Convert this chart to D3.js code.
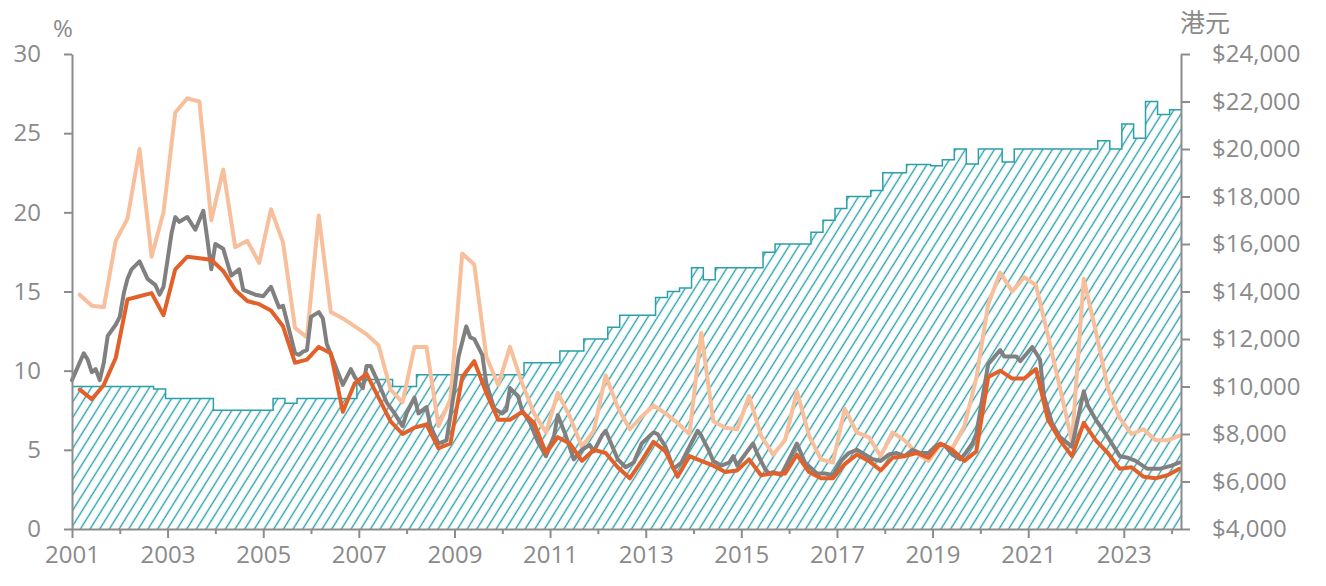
<!DOCTYPE html>
<html>
<head>
<meta charset="utf-8">
<script src="https://cdn.jsdelivr.net/npm/d3@7"></script>
<style>
  body { margin: 0; background: #fff; }
  svg text { font-family: "Open Sans", "Noto Sans", sans-serif; fill: #8a8a8a; }
</style>
</head>
<body>
<script>
// Chart size
const width = 1326;
const height = 586;

// Quarterly wage (right axis, HK$), one value per quarter from 2001Q1
const wageFirstQuarter = "2001-01";
const wage = [
  10000, 10000, 10000, 10000,  10000, 10000, 10000, 9900,
  9500, 9500, 9500, 9500,      9000, 9000, 9000, 9000,
  9000, 9500, 9300, 9500,      9500, 9500, 9500, 9500,
  10300, 10300, 10300, 10000,  10000, 10500, 10500, 10500,
  10500, 10500, 10500, 10500,  10500, 10500, 11000, 11000,
  11000, 11500, 11500, 12000,  12000, 12500, 13000, 13000,
  13000, 13750, 14000, 14150,  15000, 14500, 15000, 15000,
  15000, 15000, 15650, 16000,  16000, 16000, 16500, 17000,
  17500, 18000, 18000, 18250,  19000, 19000, 19350, 19350,
  19300, 19550, 20000, 19370,  20000, 20000, 19450, 20000,
  20000, 20000, 20000, 20000,  20000, 20000, 20350, 20000,
  21050, 20450, 22000, 21450,  21650
];

// Quarterly series (left axis, %), plotted at quarter-end months from 2001-03
const firstQuarterEnd = "2001-03";
const peach = [
  14.8, 14.1, 14.0, 18.2, 19.6, 24.0, 17.2, 20.0, 26.3, 27.2, 27.0, 19.5,
  22.7, 17.8, 18.2, 16.8, 20.2, 18.1, 12.7, 12.1, 19.8, 13.7, 13.3, 12.8,
  12.3, 11.6, 8.8, 8.0, 11.5, 11.5, 6.5, 8.2, 17.4, 16.7, 10.9, 9.1,
  11.5, 9.2, 7.3, 6.1, 8.6, 7.1, 5.2, 6.2, 9.7, 7.7, 6.3, 7.1,
  7.8, 7.3, 6.7, 6.0, 12.4, 6.8, 6.4, 6.3, 8.4, 5.9, 4.7, 5.6,
  8.7, 5.9, 4.4, 4.2, 7.6, 6.1, 5.8, 4.6, 6.1, 5.6, 4.8, 4.3,
  5.3, 5.1, 6.5, 9.5, 14.2, 16.2, 15.0, 15.9, 15.4, 12.2, 8.9, 5.5,
  15.8, 12.5, 8.9, 7.0, 6.0, 6.3, 5.6, 5.6, 5.9
];
const orange = [
  8.8, 8.2, 9.1, 10.8, 14.5, 14.7, 14.9, 13.5, 16.4, 17.2, 17.1, 17.0,
  16.3, 15.1, 14.4, 14.2, 13.8, 12.8, 10.5, 10.7, 11.5, 11.1, 7.4, 9.2,
  9.8, 8.3, 6.8, 6.0, 6.4, 6.6, 5.1, 5.4, 9.6, 10.6, 8.6, 6.9,
  6.9, 7.4, 6.7, 4.8, 5.8, 5.4, 4.3, 5.0, 4.8, 3.9, 3.2, 4.3,
  5.5, 4.9, 3.3, 4.6, 4.3, 4.0, 3.6, 3.7, 4.4, 3.4, 3.5, 3.5,
  4.7, 3.6, 3.2, 3.2, 4.1, 4.7, 4.3, 3.7, 4.5, 4.6, 4.8, 4.5,
  5.4, 5.0, 4.3, 4.9, 9.6, 10.0, 9.5, 9.5, 10.1, 6.9, 5.6, 4.6,
  6.7, 5.6, 4.8, 3.8, 3.9, 3.3, 3.2, 3.4, 3.8
];

// Monthly series (left axis, %), read at its turning points
const grayDates = [
  "2001-01","2001-04","2001-05","2001-06","2001-07","2001-08","2001-09","2001-10","2001-12",
  "2002-01","2002-02","2002-03","2002-04","2002-06","2002-08","2002-10","2002-11","2002-12",
  "2003-02","2003-03","2003-04","2003-06","2003-08","2003-10","2003-11","2003-12",
  "2004-01","2004-03","2004-05","2004-07","2004-08","2004-11",
  "2005-01","2005-03","2005-05","2005-06","2005-09","2005-10","2005-11","2005-12",
  "2006-01","2006-03","2006-04","2006-05","2006-07","2006-09","2006-11","2006-12",
  "2007-02","2007-03","2007-04","2007-06","2007-08","2007-10","2007-12",
  "2008-01","2008-03","2008-04","2008-06","2008-07","2008-09","2008-11",
  "2009-01","2009-02","2009-04","2009-05","2009-06","2009-08","2009-09","2009-11",
  "2010-01","2010-02","2010-03","2010-05","2010-06","2010-08","2010-10","2010-12",
  "2011-02","2011-03","2011-05","2011-07","2011-09","2011-11","2011-12",
  "2012-02","2012-03","2012-04","2012-06","2012-08","2012-10","2012-12",
  "2013-03","2013-04","2013-06","2013-08","2013-10","2013-12",
  "2014-02","2014-03","2014-05","2014-06","2014-08","2014-10","2014-11","2014-12",
  "2015-01","2015-04","2015-05","2015-07","2015-08","2015-09","2015-11",
  "2016-01","2016-03","2016-05","2016-08","2016-10","2016-12",
  "2017-02","2017-04","2017-06","2017-08","2017-10","2017-12",
  "2018-02","2018-04","2018-06","2018-08","2018-10","2018-12",
  "2019-02","2019-04","2019-06","2019-08","2019-09","2019-11","2019-12",
  "2020-01","2020-03","2020-06","2020-07","2020-10","2020-11",
  "2021-02","2021-04","2021-05","2021-07","2021-09","2021-12",
  "2022-03","2022-04","2022-06","2022-09","2022-12",
  "2023-02","2023-04","2023-07","2023-10","2024-01","2024-03"
];
const grayValues = [
  9.4, 11.1, 10.7, 9.9, 10.1, 9.4, 10.5, 12.2, 12.9,
  13.4, 14.9, 15.8, 16.4, 16.9, 15.8, 15.4, 14.8, 15.3,
  18.7, 19.7, 19.4, 19.7, 18.9, 20.1, 18.3, 16.4,
  18.0, 17.7, 16.0, 16.4, 15.1, 14.8,
  14.7, 15.3, 14.0, 14.1, 11.1, 11.0, 11.2, 11.3,
  13.4, 13.7, 13.3, 11.7, 10.4, 9.1, 10.1, 9.6,
  8.9, 10.3, 10.3, 9.2, 8.0, 7.3, 6.5,
  7.3, 8.3, 7.3, 7.7, 6.5, 5.4, 5.6,
  8.8, 10.9, 12.8, 12.1, 12.0, 11.0, 9.2, 7.6,
  7.3, 7.5, 8.9, 8.4, 7.5, 6.7, 5.5, 4.6,
  5.9, 7.2, 5.9, 4.4, 5.0, 5.3, 4.9,
  5.9, 6.2, 5.6, 4.4, 3.9, 4.2, 5.4,
  6.1, 6.0, 5.2, 3.8, 4.2, 5.2,
  6.2, 5.9, 4.9, 4.3, 4.0, 4.2, 4.6, 4.0,
  4.4, 5.4, 4.8, 3.8, 3.5, 3.6, 3.4,
  4.4, 5.4, 4.2, 3.5, 3.5, 3.4,
  4.3, 4.8, 5.0, 4.7, 4.4, 4.3,
  4.7, 4.8, 4.6, 5.0, 4.8, 4.8,
  5.3, 5.3, 4.7, 4.4, 4.7, 5.4, 6.0,
  7.5, 10.4, 11.3, 10.9, 10.9, 10.6,
  11.5, 10.7, 8.4, 6.7, 5.8, 5.2,
  8.7, 7.8, 6.9, 5.8, 4.6,
  4.5, 4.3, 3.8, 3.8, 4.0, 4.2
];

// Axis ticks
const leftTicks = [0, 5, 10, 15, 20, 25, 30];
const rightTicks = [4000, 6000, 8000, 10000, 12000, 14000, 16000, 18000, 20000, 22000, 24000];
const leftTitle = "%";
const rightTitle = "港元";

// Colours
const axisColor = "#8c8c8c";
const tealColor = "#2aa0aa";
const peachColor = "#f8bf9c";
const grayColor = "#808080";
const orangeColor = "#e2612a";

const parseMonth = d3.timeParse("%Y-%m");

// Create SVG
const svg = d3.select("body")
  .append("svg")
  .attr("width", width)
  .attr("height", height);

// Scales
const xDomain = [parseMonth("2001-01"), new Date(2024, 2, 13)];
const x = d3.scaleTime().domain(xDomain).range([72, 1181]);
const yLeft = d3.scaleLinear().domain([0, 30]).range([529, 54]);
const yRight = d3.scaleLinear().domain([4000, 24000]).range([529, 54]);

// Hatch pattern for the wage area
const pattern = svg.append("defs").append("pattern")
  .attr("id", "hatch")
  .attr("patternUnits", "userSpaceOnUse")
  .attr("width", 8.2)
  .attr("height", 8.2)
  .attr("patternTransform", "rotate(32)");
pattern.append("line")
  .attr("x1", 4.1).attr("y1", -1)
  .attr("x2", 4.1).attr("y2", 9.2)
  .attr("stroke", tealColor)
  .attr("stroke-width", 1.4);

// Wage steps: each quarter changes half a month before it starts
const quarterStarts = d3.timeMonth.every(3).range(
  parseMonth(wageFirstQuarter),
  d3.timeMonth.offset(parseMonth(wageFirstQuarter), 3 * wage.length)
);
const wagePoints = wage.map((v, i) => ({
  date: i === 0 ? xDomain[0] : d3.timeDay.offset(quarterStarts[i], -15),
  value: v
}));
wagePoints.push({ date: xDomain[1], value: wage[wage.length - 1] });

const wageArea = d3.area()
  .curve(d3.curveStepAfter)
  .x(d => x(d.date))
  .y0(yRight(4000))
  .y1(d => yRight(d.value));
const wageLine = d3.line()
  .curve(d3.curveStepAfter)
  .x(d => x(d.date))
  .y(d => yRight(d.value));

svg.append("path")
  .datum(wagePoints)
  .attr("d", wageArea)
  .attr("fill", "url(#hatch)");
svg.append("path")
  .datum(wagePoints)
  .attr("d", wageLine)
  .attr("fill", "none")
  .attr("stroke", tealColor)
  .attr("stroke-width", 1.5);

// Line series
const quarterEnds = quarterStarts.map(d => d3.timeMonth.offset(d, 2));
const pctLine = d3.line()
  .x(d => x(d.date))
  .y(d => yLeft(d.value));

const series = [
  { values: peach.map((v, i) => ({ date: quarterEnds[i], value: v })), color: peachColor },
  { values: grayValues.map((v, i) => ({ date: parseMonth(grayDates[i]), value: v })), color: grayColor },
  { values: orange.map((v, i) => ({ date: quarterEnds[i], value: v })), color: orangeColor }
];

svg.selectAll(".series")
  .data(series)
  .enter()
  .append("path")
  .attr("class", "series")
  .attr("d", d => pctLine(d.values))
  .attr("fill", "none")
  .attr("stroke", d => d.color)
  .attr("stroke-width", 4)
  .attr("stroke-linejoin", "round")
  .attr("stroke-linecap", "round");

// Axes
function styleAxis(g) {
  g.selectAll(".domain").attr("stroke", axisColor).attr("stroke-width", 2);
  g.selectAll(".tick line").attr("stroke", axisColor).attr("stroke-width", 2);
  g.selectAll(".tick text").attr("fill", "#8a8a8a").style("font-size", "24px");
}

const yAxisLeft = d3.axisLeft(yLeft)
  .tickValues(leftTicks)
  .tickSize(8)
  .tickSizeOuter(0)
  .tickPadding(23);
svg.append("g")
  .attr("transform", "translate(72,0)")
  .call(yAxisLeft)
  .call(styleAxis);

const yAxisRight = d3.axisRight(yRight)
  .tickValues(rightTicks)
  .tickSize(9)
  .tickSizeOuter(0)
  .tickPadding(22)
  .tickFormat(d => "$" + d3.format(",")(d));
svg.append("g")
  .attr("transform", "translate(1181,0)")
  .call(yAxisRight)
  .call(styleAxis);

const xAxis = d3.axisBottom(x)
  .ticks(d3.timeYear.every(1))
  .tickSize(9)
  .tickSizeOuter(0)
  .tickPadding(8)
  .tickFormat(d => d.getFullYear() % 2 === 1 ? d.getFullYear() : "");
const xg = svg.append("g")
  .attr("transform", "translate(0,529)")
  .call(xAxis)
  .call(styleAxis);
xg.selectAll(".tick line")
  .filter(d => d.getFullYear() % 2 === 0)
  .attr("y2", 5);

// Axis titles
svg.append("text")
  .attr("x", 63).attr("y", 37)
  .attr("text-anchor", "middle")
  .style("font-size", "24px")
  .text(leftTitle);
svg.append("text")
  .attr("x", 1205).attr("y", 32)
  .attr("text-anchor", "middle")
  .style("font-family", "'Noto Sans CJK TC', 'Noto Sans CJK SC', sans-serif")
  .style("font-size", "25px")
  .text(rightTitle);
</script>
</body>
</html>
